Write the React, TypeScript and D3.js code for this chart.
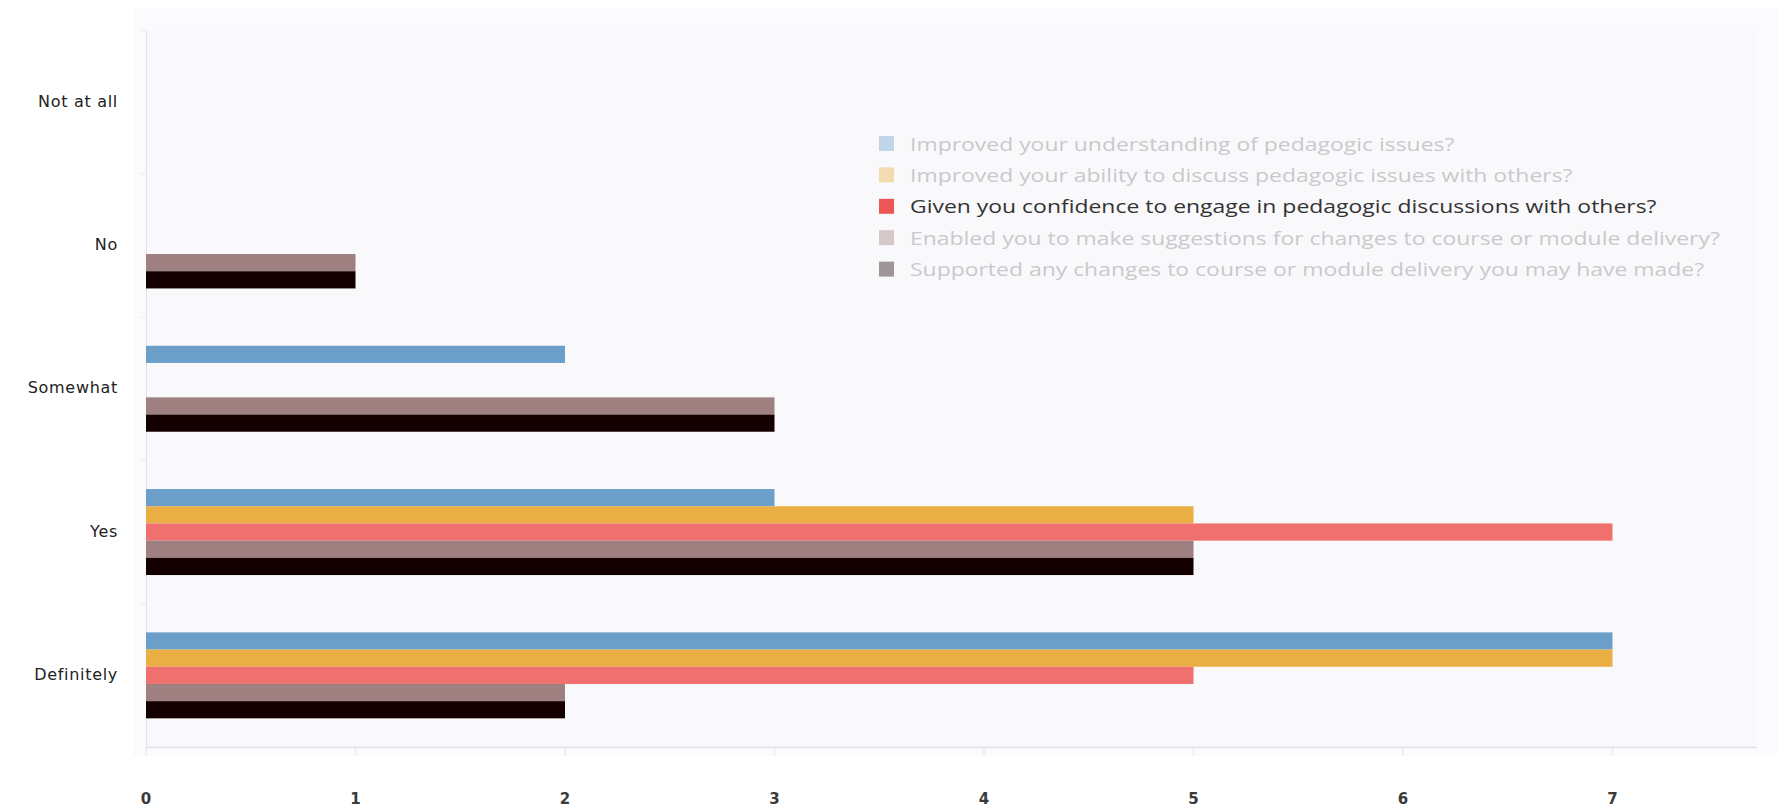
import React from "react";
import * as d3 from "d3";

const categories = ["Not at all", "No", "Somewhat", "Yes", "Definitely"];

const seriesNames = [
  "Improved your understanding of pedagogic issues?",
  "Improved your ability to discuss pedagogic issues with others?",
  "Given you confidence to engage in pedagogic discussions with others?",
  "Enabled you to make suggestions for changes to course or module delivery?",
  "Supported any changes to course or module delivery you may have made?",
];

const understanding = [0, 0, 2, 3, 7];
const discuss = [0, 0, 0, 5, 7];
const confidence = [0, 0, 0, 7, 5];
const suggestions = [0, 1, 3, 5, 2];
const supported = [0, 1, 3, 5, 2];

const xTicks = [0, 1, 2, 3, 4, 5, 6, 7];

const colors = ["#6b9fca", "#e9ae44", "#f07070", "#9e8080", "#140000"];
const highlighted = 2;

const W = 1789;
const H = 809;

export default function App() {
  const values = [understanding, discuss, confidence, suggestions, supported];
  const plot = { left: 146, right: 1757, top: 30.5, bottom: 747 };

  const x = d3.scaleLinear().domain([0, 7.68]).range([plot.left, plot.left + 209.5 * 7.68]);
  const y = d3.scaleBand<string>().domain(categories).range([plot.top, plot.bottom]).padding(0);
  const groupH = y.bandwidth() * 0.6;
  const inner = d3
    .scaleBand<number>()
    .domain(d3.range(seriesNames.length))
    .range([0, groupH])
    .padding(0);

  const legendX = 879;
  const legendY = 143.5;
  const legendStep = 31.4;

  return (
    <svg
      width={W}
      height={H}
      style={{ position: "absolute", left: 0, top: 0, background: "#ffffff" }}
      fontFamily="'DejaVu Sans', Verdana, sans-serif"
    >
      {/* panel and plot background */}
      <rect x={133} y={8} width={1644} height={748} fill="#fbfbfd" />
      <rect x={plot.left} y={plot.top} width={plot.right - plot.left} height={plot.bottom - plot.top} fill="#f9f9fb" />

      {/* left axis */}
      <line x1={plot.left + 0.5} x2={plot.left + 0.5} y1={plot.top} y2={plot.bottom} stroke="#e4e4e8" />
      {categories.map((c) => (
        <line
          key={"yt" + c}
          x1={plot.left - 6}
          x2={plot.left}
          y1={y(c) as number}
          y2={y(c) as number}
          stroke="#ececf0"
        />
      ))}

      {/* bars */}
      {categories.map((c, ci) => (
        <g key={"g" + c} transform={`translate(0,${(y(c) as number) + y.bandwidth() * 0.2})`}>
          {values.map((vals, si) =>
            vals[ci] > 0 ? (
              <rect
                key={si}
                x={x(0)}
                y={inner(si) as number}
                width={x(vals[ci]) - x(0)}
                height={inner.bandwidth()}
                fill={colors[si]}
              />
            ) : null
          )}
        </g>
      ))}

      {/* bottom axis */}
      <line x1={plot.left} x2={plot.right} y1={plot.bottom + 0.5} y2={plot.bottom + 0.5} stroke="#e0e0e6" strokeWidth={1.5} />
      {xTicks.map((t) => (
        <g key={"xt" + t}>
          <line x1={x(t)} x2={x(t)} y1={plot.bottom} y2={plot.bottom + 8} stroke="#e2e2e8" />
          <text
            x={x(t)}
            y={804}
            textAnchor="middle"
            fontSize={15}
            fontWeight="bold"
            fill="#3a3a3a"
          >
            {t}
          </text>
        </g>
      ))}

      {/* category labels */}
      {categories.map((c) => (
        <text
          key={"yl" + c}
          x={118}
          y={(y(c) as number) + y.bandwidth() / 2}
          textAnchor="end"
          dominantBaseline="middle"
          fontSize={16}
          letterSpacing={0.7}
          fill="#222"
        >
          {c}
        </text>
      ))}

      {/* legend */}
      {seriesNames.map((name, i) => {
        const cy = legendY + i * legendStep;
        const active = i === highlighted;
        return (
          <g key={"lg" + i}>
            <rect
              x={legendX}
              y={cy - 7.5}
              width={15}
              height={15}
              fill={active ? "#ec5656" : colors[i]}
              opacity={active ? 1 : 0.4}
            />
            <text
              x={0}
              y={0}
              transform={`translate(${legendX + 31},${cy}) scale(1.24,1)`}
              dominantBaseline="central"
              fontFamily="'Open Sans', sans-serif"
              fontSize={18.5}
              fill={active ? "#333" : "#c9c9cc"}
            >
              {name}
            </text>
          </g>
        );
      })}
    </svg>
  );
}
